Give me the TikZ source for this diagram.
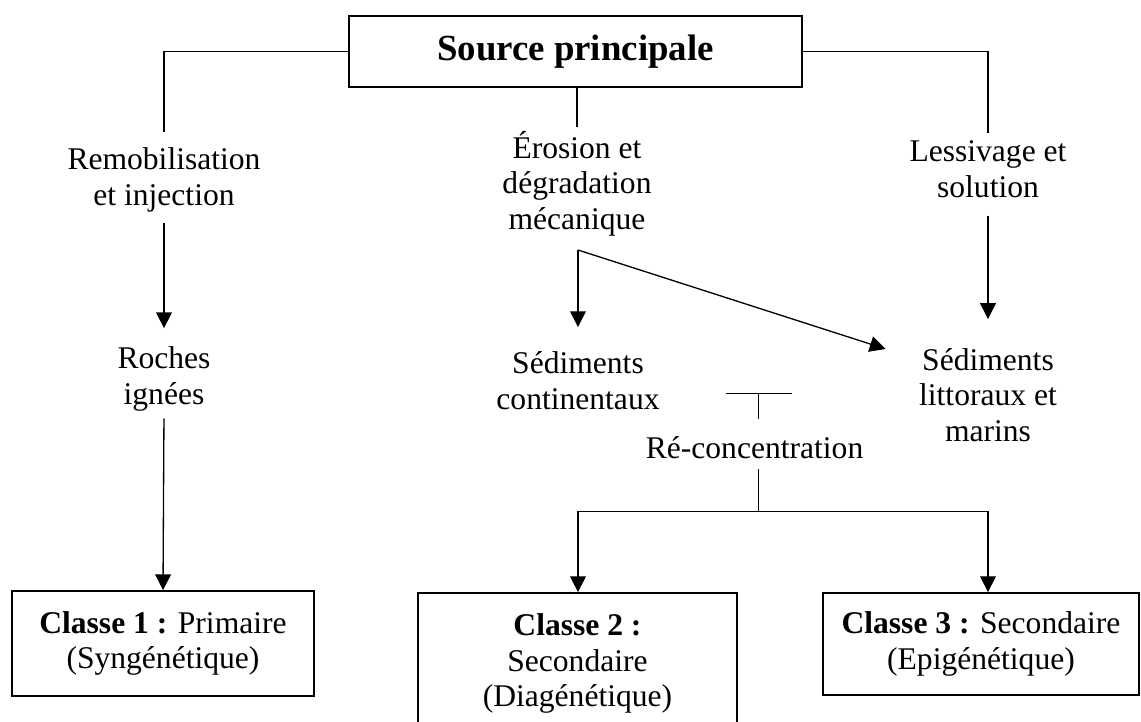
\documentclass[tikz,border=0pt]{standalone}
\usepackage{fontspec}
\setmainfont{Liberation Serif}
\usetikzlibrary{arrows.meta}

\begin{document}
\begin{tikzpicture}[x=0.38pt,y=-0.38pt]
    \tikzstyle{lbl}=[align=center, inner sep=0pt, anchor=base, font=\fontsize{12}{13.5}\selectfont]
    \tikzstyle{classe}=[draw, line width=0.65pt, align=center, inner sep=0pt, font=\fontsize{12}{13.5}\selectfont]
    \tikzstyle{fleche}=[line width=0.5pt, -{Triangle[length=6pt,width=6pt]}]
    \tikzstyle{trait}=[line width=0.5pt]
    \useasboundingbox (0,0) rectangle (1141,722);
    \node[draw, line width=0.9pt, minimum width=172pt, minimum height=27pt,
        font=\fontsize{14}{16}\selectfont\bfseries] (src) at (575.5,51.5) {Source principale};
    % base = derniere ligne du texte
    \foreach \n/\x/\y/\t in { remob/164/205/{Remobilisation\\et injection},
        ero/577/229.5/{Érosion et\\dégradation\\mécanique}, lessiv/988/197/{Lessivage et\\solution},
        roches/164/404/{Roches\\ignées}, sedc/578/409/{Sédiments\\continentaux},
        sedl/988/441.5/{Sédiments\\littoraux et\\marins}, reco/758.5/458/{Ré-concentration} }
        \node[lbl] (\n) at (\x,\y) {\t};
    \node[classe, minimum width=114.8pt, minimum height=39.9pt] (cls1) at (163,643.5)
        {\textbf{Classe 1 :} Primaire\\(Syngénétique)};
    \node[classe, minimum width=121.2pt, minimum height=53.6pt] (cls2) at (577.5,663.5)
        {\textbf{Classe 2 :}\\Secondaire\\(Diagénétique)};
    \node[classe, minimum width=120.1pt, minimum height=38.8pt] (cls3) at (981,644)
        {\textbf{Classe 3 :} Secondaire\\(Epigénétique)};
    % branches sous la source
    \draw[trait, shorten >=5.9pt] (src.west) -| (remob.north);
    \draw[trait, shorten >=1.3pt] (ero.north |- src.south) -- (ero.north);
    \draw[trait, shorten >=2.8pt] (src.east) -| (lessiv.north);
    \draw[fleche, shorten <=4.2pt, shorten >=6.8pt] (remob.south) -- (roches.north);
    \draw[fleche, shorten <=2.7pt] (roches.south) -- (cls1.north);
    \coordinate (fourche) at (578,250);
    \draw[fleche, shorten >=9.1pt] (fourche) -- (sedc.north);
    \draw[fleche] (fourche) -- ([shift={(-33,1)}]sedl.north west);
    \draw[fleche, shorten <=6.8pt, shorten >=11pt] (lessiv.south) -- (sedl.north);
    % re-concentration
    \draw[trait] (reco.north) ++(0,-17) -- ++(0,-25) ++(-33,0) -- ++(66,0);
    \draw[fleche, shorten <=3.8pt] (reco.south) -- ++(0,53) -| (sedc |- cls2.north);
    \draw[fleche] (reco.south) ++(0,53) -| (sedl |- cls3.north);
\end{tikzpicture}
\end{document}
